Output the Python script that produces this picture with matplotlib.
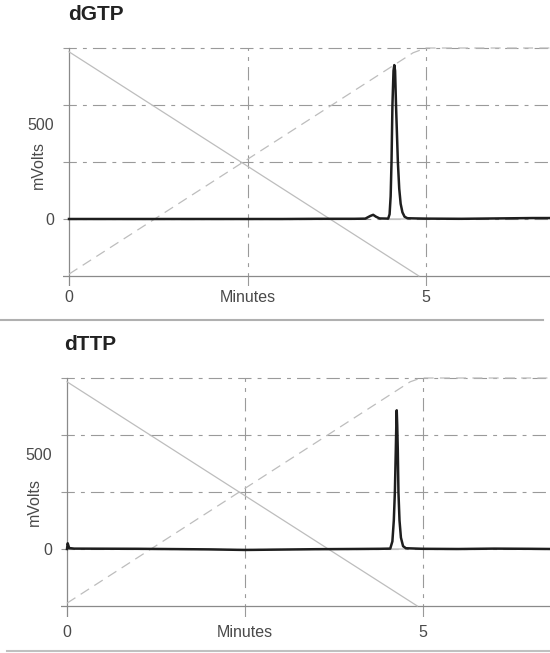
"""Two HPLC chromatograms (dGTP, dTTP) with gradient overlay lines."""

import matplotlib.pyplot as plt
from matplotlib.lines import Line2D

plt.rcParams['font.family'] = ['Liberation Sans', 'DejaVu Sans']

# --- data ------------------------------------------------------------------
titles = ['dGTP', 'dTTP']

dgtp_time = [0.0, 0.5, 1.0, 1.5, 2.0, 2.5, 3.0, 3.5, 4.0, 4.15, 4.22, 4.26,
             4.30, 4.35, 4.47, 4.49, 4.505, 4.517, 4.53, 4.545, 4.556, 4.567,
             4.58, 4.606, 4.625, 4.645, 4.67, 4.70, 4.74, 4.85, 5.0, 5.5,
             6.0, 6.5, 6.8]
dgtp_mv = [0, 0, 0, 0, 0, 0, 0, 1, 1, 2, 16, 22,
           12, 3, 2, 25, 120, 300, 600, 780, 810, 780,
           600, 300, 160, 80, 35, 12, 4, 3, 2, 1,
           3, 5, 5]

dttp_time = [0.0, 0.01, 0.03, 0.1, 1.0, 2.0, 2.5, 3.0, 3.5, 4.0, 4.4, 4.54,
             4.57, 4.59, 4.605, 4.618, 4.625, 4.631, 4.638, 4.646, 4.655,
             4.67, 4.69, 4.72, 4.76, 5.0, 5.5, 6.0, 6.5, 6.8]
dttp_mv = [0, 30, 5, 2, 1, -2, -5, -3, -1, 0, 1, 2,
           40, 150, 300, 520, 650, 730, 650, 520, 300,
           150, 60, 15, 4, 1, 0, 2, 1, 0]

# gradient programme lines (solid = buffer A, dashed = buffer B)
grad_a_time = [[0.0, 4.9], [0.0, 4.92]]
grad_a_mv = [[880, -300], [880, -300]]
grad_b_time = [[0.0, 4.82, 5.0, 6.8], [0.0, 4.82, 4.97, 6.8]]
grad_b_mv = [[-290, 875, 900, 900], [-285, 880, 900, 900]]

# integration baseline under the peak
peak_base_time = [[4.47, 4.74], [4.54, 4.76]]

x_ticks = [0, 2.5, 5]
x_tick_labels = ['0', 'Minutes', '5']
y_ticks = [0, 500]
y_tick_labels = ['0', '500']
grid_x = [2.5, 5.0, 7.5]
grid_y = [0, 300, 600, 900]
y_label = 'mVolts'

# --- layout (pixels, origin top-left, figure 550 x 653) ---------------------
W, H = 550, 653
panels = [
    # axes left/right/top/bottom px, x0 px, px per min, y0 px, px per mV
    dict(left=63, right=550, top=46, bottom=286, x0=69, pxmin=71.4,
         y0=219, pxmv=0.19, title_xy=(68, 15), ylab_xy=(38, 165), xpad=3),
    dict(left=61, right=550, top=376, bottom=617, x0=67, pxmin=71.2,
         y0=549, pxmv=0.19, title_xy=(64, 345), ylab_xy=(34, 502), xpad=6),
]

GRID_COLOR = '#9a9a9a'
GRAD_COLOR = '#bdbdbd'
AXIS_COLOR = '#8a8a8a'
TEXT_COLOR = '#4a4a4a'
dash_dot = (0, (12, 5.5, 3.5, 5.5))

fig = plt.figure(figsize=(W / 100, H / 100), dpi=100)

traces = [(dgtp_time, dgtp_mv), (dttp_time, dttp_mv)]

for i, p in enumerate(panels):
    ax = fig.add_axes([p['left'] / W, 1 - p['bottom'] / H,
                       (p['right'] - p['left']) / W,
                       (p['bottom'] - p['top']) / H])
    xmin = (p['left'] - p['x0']) / p['pxmin']
    xmax = (p['right'] - p['x0']) / p['pxmin']
    ymin = (p['y0'] - p['bottom']) / p['pxmv']
    ymax = (p['y0'] - p['top']) / p['pxmv']
    ax.set_xlim(xmin, xmax)
    ax.set_ylim(ymin, ymax)
    for s in ax.spines.values():
        s.set_visible(False)

    # grid
    for gy in grid_y:
        ax.plot([xmin, xmax], [gy, gy], color=GRID_COLOR, lw=0.8,
                linestyle=dash_dot, zorder=1)
    for gx in grid_x:
        ax.plot([gx, gx], [ymin, 900], color=GRID_COLOR, lw=0.8,
                linestyle=dash_dot, zorder=1)

    # axis lines
    ax.plot([0, 0], [ymin, 900], color=AXIS_COLOR, lw=0.9, zorder=2)
    ax.plot([xmin, xmax], [-300, -300], color=AXIS_COLOR, lw=0.9, zorder=2)

    # gradient lines
    ax.plot(grad_a_time[i], grad_a_mv[i], color=GRAD_COLOR, lw=0.9, zorder=2)
    ax.plot(grad_b_time[i], grad_b_mv[i], color=GRAD_COLOR, lw=0.9,
            linestyle=(0, (8, 5)), zorder=2)

    # baseline + trace
    ax.plot(peak_base_time[i], [0, 0], color='#c8c8c8', lw=1.2, zorder=3)
    t, mv = traces[i]
    ax.plot(t, mv, color='#1e1e1e', lw=1.8, zorder=4,
            solid_joinstyle='round')

    ax.set_xticks(x_ticks, x_tick_labels)
    ax.set_yticks(y_ticks, y_tick_labels)
    ax.tick_params(axis='both', length=0, labelsize=11.5,
                   labelcolor=TEXT_COLOR)
    ax.tick_params(axis='x', pad=p['xpad'])
    ax.tick_params(axis='y', pad=6.5)

    fig.text(p['title_xy'][0] / W, 1 - p['title_xy'][1] / H, titles[i],
             fontsize=15, fontweight='bold', color='#222222',
             ha='left', va='center')
    fig.text(p['ylab_xy'][0] / W, 1 - p['ylab_xy'][1] / H, y_label,
             fontsize=11.5, color=TEXT_COLOR, rotation=90,
             ha='center', va='center')

# panel separators
fig.add_artist(Line2D([0, 543 / W], [1 - 320 / H, 1 - 320 / H],
                      color='#b0b0b0', lw=1.5))
fig.add_artist(Line2D([7 / W, 1], [1 - 651 / H, 1 - 651 / H],
                      color='#c0c0c0', lw=1.5))

fig.savefig('out.png', dpi=100)
plt.close(fig)
